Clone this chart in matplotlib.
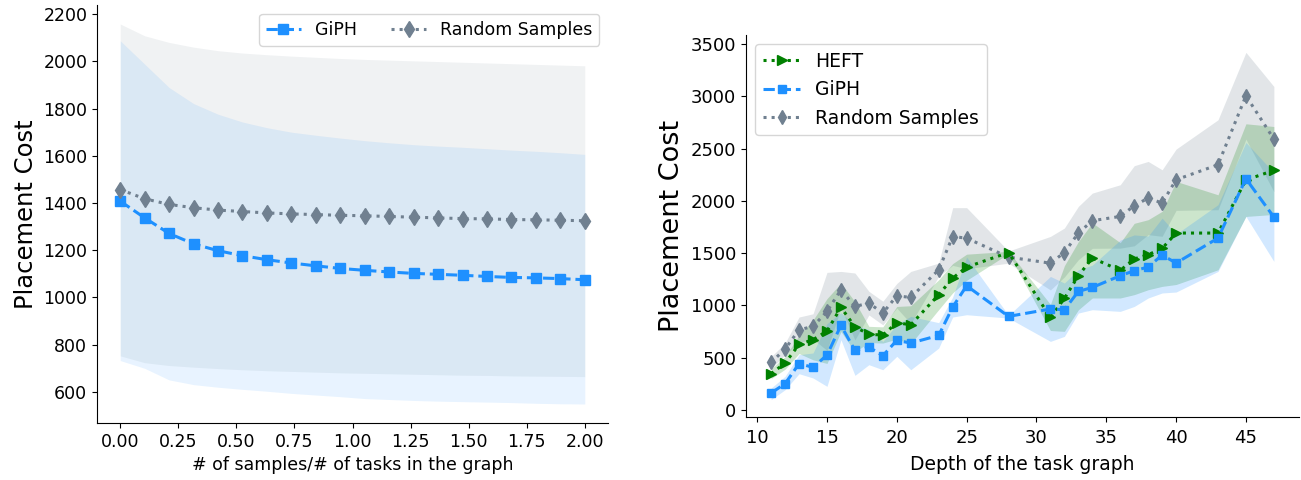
import matplotlib
matplotlib.use("Agg")
import matplotlib.pyplot as plt
import numpy as np

# ---------------- Left panel data ----------------
ratio = np.linspace(0, 2, 20)
giph_l = [1408, 1337, 1271, 1227, 1198, 1177, 1160, 1146, 1134, 1123,
          1115, 1108, 1102, 1098, 1094, 1089, 1085, 1083, 1080, 1075]
giph_l_hi = [2087, 1988, 1889, 1821, 1776, 1743, 1719, 1700, 1687, 1675,
             1664, 1655, 1647, 1641, 1636, 1630, 1624, 1619, 1613, 1606]
giph_l_lo = [733, 700, 651, 631, 620, 611, 603, 594, 587, 580,
             572, 568, 564, 561, 559, 557, 555, 552, 550, 549]
rand_l = [1457, 1418, 1394, 1380, 1370, 1364, 1358, 1354, 1351, 1348,
          1346, 1343, 1340, 1337, 1334, 1333, 1330, 1329, 1327, 1325]
rand_l_hi = [2158, 2108, 2080, 2060, 2045, 2035, 2028, 2022, 2017, 2012,
             2008, 2005, 2002, 1999, 1996, 1993, 1990, 1987, 1984, 1981]
rand_l_lo = [753, 724, 712, 705, 699, 694, 690, 687, 684, 681,
             679, 677, 675, 673, 671, 670, 668, 667, 666, 665]

# ---------------- Right panel data ----------------
depth = [11, 12, 13, 14, 15, 16, 17, 18, 19, 20, 21, 23, 24, 25, 28,
         31, 32, 33, 34, 36, 37, 38, 39, 40, 43, 45, 47]
giph_r = [162, 252, 443, 408, 525, 809, 570, 602, 519, 666, 640, 713, 984, 1188, 895,
          966, 959, 1134, 1172, 1284, 1332, 1367, 1482, 1405, 1644, 2211, 1845]
giph_r_lo = [99, 194, 347, 306, 226, 672, 331, 433, 385, 513, 385, 592, 889, 911, 879,
             656, 704, 927, 959, 943, 990, 1071, 1119, 1128, 1325, 1851, 1421]
giph_r_hi = [210, 322, 529, 545, 825, 930, 810, 770, 655, 820, 895, 835, 1080, 1462, 905,
             1277, 1214, 1341, 1385, 1625, 1674, 1663, 1835, 1682, 1963, 2558, 2270]
heft_r = [347, 449, 627, 672, 755, 981, 796, 723, 717, 834, 815, 1102, 1261, 1366, 1506,
          885, 1067, 1284, 1453, 1335, 1444, 1485, 1545, 1692, 1692, 2200, 2291]
heft_r_lo = [300, 390, 540, 480, 445, 750, 556, 645, 640, 678, 633, 960, 1120, 1240, 1495,
             760, 752, 958, 1071, 1071, 1103, 1150, 1182, 1200, 1341, 1851, 1870]
heft_r_hi = [395, 510, 715, 860, 1065, 1213, 1036, 800, 795, 990, 997, 1245, 1400, 1490, 1517,
             1010, 1380, 1610, 1790, 1600, 1785, 1820, 1900, 2186, 2058, 2737, 2711]
rand_r = [455, 583, 767, 799, 943, 1150, 990, 1022, 927, 1092, 1076, 1341, 1659, 1643, 1462,
          1404, 1506, 1692, 1810, 1851, 1953, 2027, 1979, 2202, 2345, 3005, 2591]
rand_r_hi = [510, 640, 889, 920, 1316, 1325, 1310, 1135, 1040, 1210, 1325, 1405, 1935, 1935, 1520,
             1660, 1740, 1947, 2074, 2154, 2336, 2377, 2297, 2495, 2775, 3420, 3094]
rand_r_lo = [400, 526, 645, 678, 570, 975, 670, 909, 814, 974, 827, 1278, 1383, 1351, 1404,
             1148, 1272, 1437, 1546, 1548, 1570, 1677, 1661, 1909, 1915, 2590, 2088]

BLUE = "#1E90FF"
GREY = "#708090"
GREEN = "#008000"

W, H = 1301, 480
fig = plt.figure(figsize=(W / 100, H / 100), dpi=100)

def box(x0, y0, x1, y1):
    return [x0 / W, 1 - y1 / H, (x1 - x0) / W, (y1 - y0) / H]

# ---------------- Left ----------------
ax1 = fig.add_axes(box(97, 5, 608, 423))
ax1.fill_between(ratio, rand_l_lo, rand_l_hi, color=GREY, alpha=0.1, linewidth=0)
ax1.fill_between(ratio, giph_l_lo, giph_l_hi, color=BLUE, alpha=0.1, linewidth=0)
ax1.plot(ratio, giph_l, linestyle="--", marker="s", color=BLUE, lw=2.2, ms=7, label="GiPH")
ax1.plot(ratio, rand_l, linestyle=":", marker="d", color=GREY, lw=2.2, ms=8, label="Random Samples")
ax1.set_xlabel("# of samples/# of tasks in the graph", fontsize=12.5)
ax1.set_ylabel("Placement Cost", fontsize=17.5)
ax1.tick_params(labelsize=12.5)
ax1.legend(loc="upper right", ncol=2, fontsize=12.5)
for s in ("top", "right"):
    ax1.spines[s].set_visible(False)

# ---------------- Right ----------------
ax2 = fig.add_axes(box(746, 35, 1299, 417))
ax2.fill_between(depth, rand_r_lo, rand_r_hi, color=GREY, alpha=0.2, linewidth=0)
ax2.fill_between(depth, heft_r_lo, heft_r_hi, color=GREEN, alpha=0.2, linewidth=0)
ax2.fill_between(depth, giph_r_lo, giph_r_hi, color=BLUE, alpha=0.2, linewidth=0)
l_r, = ax2.plot(depth, rand_r, linestyle=":", marker="d", color=GREY, lw=2.2, ms=7, label="Random Samples")
l_h, = ax2.plot(depth, heft_r, linestyle=":", marker=">", color=GREEN, lw=2.2, ms=6.5, label="HEFT")
l_g, = ax2.plot(depth, giph_r, linestyle="--", marker="s", color=BLUE, lw=2.2, ms=6, label="GiPH")
ax2.set_xlabel("Depth of the task graph", fontsize=13.5, labelpad=6)
ax2.set_ylabel("Placement Cost", fontsize=19.5)
ax2.tick_params(labelsize=13)
ax2.tick_params(axis="x", pad=5)
ax2.legend(handles=[l_h, l_g, l_r], loc="upper left", fontsize=13.5)
for s in ("top", "right"):
    ax2.spines[s].set_visible(False)

fig.savefig("out.png", dpi=100)
